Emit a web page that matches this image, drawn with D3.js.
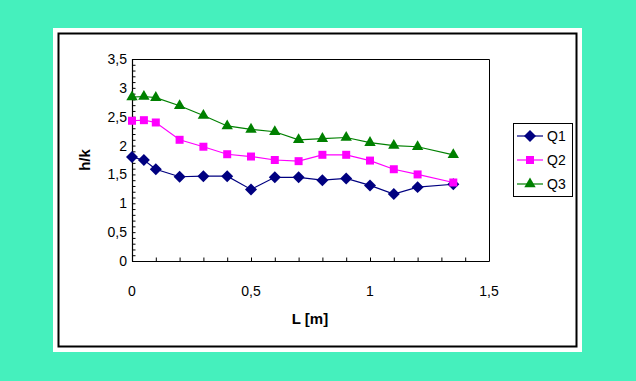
<!DOCTYPE html>
<html><head><meta charset="utf-8">
<script src="https://cdn.jsdelivr.net/npm/d3@7"></script>
<style>html,body{margin:0;padding:0;background:#45F0BD;}svg{display:block;}</style>
</head><body>
<svg id="c" width="636" height="381"></svg>
<script>
const xValues = [0, 0.05, 0.1, 0.2, 0.3, 0.4, 0.5, 0.6, 0.7, 0.8, 0.9, 1.0, 1.1, 1.2, 1.35];
const q1 = [1.80, 1.75, 1.59, 1.46, 1.47, 1.47, 1.24, 1.45, 1.45, 1.40, 1.43, 1.31, 1.16, 1.28, 1.33];
const q2 = [2.43, 2.44, 2.40, 2.10, 1.98, 1.85, 1.81, 1.75, 1.73, 1.84, 1.84, 1.74, 1.59, 1.50, 1.36];
const q3 = [2.84, 2.85, 2.83, 2.69, 2.52, 2.34, 2.28, 2.24, 2.10, 2.12, 2.14, 2.05, 2.00, 1.98, 1.84];
const seriesNames = ["Q1", "Q2", "Q3"];
const xTickValues = [0, 0.5, 1, 1.5];
const yTickValues = [0, 0.5, 1, 1.5, 2, 2.5, 3, 3.5];
const xTitle = "L [m]";
const yTitle = "h/k";

const colors = ["#000080", "#FF00FF", "#008000"];
const symbols = [d3.symbolSquare, d3.symbolSquare, d3.symbolTriangle];
const symRot = [45, 0, 0];
const symSizes = [72, 64, 56];
const fmt = v => String(v).replace(".", ",");
const font = "'Liberation Sans', Arial, sans-serif";

const svg = d3.select("#c");
svg.append("rect").attr("x", 53).attr("y", 28).attr("width", 529).attr("height", 324).attr("fill", "#fff");
svg.append("rect").attr("x", 58.5).attr("y", 33.5).attr("width", 518).attr("height", 313)
  .attr("fill", "none").attr("stroke", "#000").attr("stroke-width", 2);

const x = d3.scaleLinear().domain([0, 1.5]).range([132, 489]);
const y = d3.scaleLinear().domain([0, 3.5]).range([261, 59]);

// plot frame (top & right)
svg.append("path").attr("d", `M${x(0)},${y(3.5)+0.5}H${x(1.5)+0.5}V${y(0)}`)
  .attr("fill", "none").attr("stroke", "#000").attr("stroke-width", 1);

// minor ticks
const xMinor = d3.range(0, 16).map(i => i / 10);
const yMinor = d3.range(0, 36).map(i => i / 10);
const xa = svg.append("g").attr("transform", `translate(0,${y(0)+0.5})`)
  .call(d3.axisTop(x).tickValues(xMinor).tickSize(4).tickFormat(""));
const ya = svg.append("g").attr("transform", `translate(${x(0)+0.5},0)`)
  .call(d3.axisRight(y).tickValues(yMinor).tickSize(3).tickFormat(""));
[xa, ya].forEach(g => {
  g.select(".domain").attr("stroke", "#000").attr("stroke-width", 1.2);
  g.selectAll("line").attr("stroke", "#000");
});
xa.select(".domain").attr("d", `M${x(0)},0H${x(1.5)+0.5}`);
ya.select(".domain").attr("d", `M0,${y(0)+0.5}V${y(3.5)}`);

// tick labels
svg.append("g").selectAll("text").data(xTickValues).join("text")
  .attr("x", d => x(d)).attr("y", 296).attr("text-anchor", "middle")
  .attr("font-family", font).attr("font-size", 14).text(fmt);
svg.append("g").selectAll("text").data(yTickValues).join("text")
  .attr("x", 127).attr("y", d => y(d) + 5).attr("text-anchor", "end")
  .attr("font-family", font).attr("font-size", 14).text(fmt);

// titles
svg.append("text").attr("x", 310).attr("y", 324).attr("text-anchor", "middle")
  .attr("font-family", font).attr("font-size", 15).attr("font-weight", "bold").text(xTitle);
svg.append("text").attr("transform", "translate(90,160) rotate(-90)").attr("text-anchor", "middle")
  .attr("font-family", font).attr("font-size", 15).attr("font-weight", "bold").text(yTitle);

// series
const allSeries = [q1, q2, q3];
const line = d3.line().x(d => x(d[0])).y(d => y(d[1]));
allSeries.forEach((vals, i) => {
  const pts = xValues.map((xv, j) => [xv, vals[j]]);
  svg.append("path").datum(pts).attr("d", line).attr("fill", "none")
    .attr("stroke", colors[i]).attr("stroke-width", 1.2);
});
allSeries.forEach((vals, i) => {
  const pts = xValues.map((xv, j) => [xv, vals[j]]);
  svg.append("g").selectAll("path").data(pts).join("path")
    .attr("transform", d => `translate(${x(d[0])},${y(d[1])}) rotate(${symRot[i]})`)
    .attr("d", d3.symbol().type(symbols[i]).size(symSizes[i]))
    .attr("fill", colors[i]);
});

// legend
const lg = svg.append("g");
lg.append("rect").attr("x", 513.5).attr("y", 123.5).attr("width", 59).attr("height", 73)
  .attr("fill", "#fff").attr("stroke", "#000").attr("stroke-width", 1);
const legY = [136, 160, 184];
seriesNames.forEach((n, i) => {
  lg.append("line").attr("x1", 517).attr("x2", 543).attr("y1", legY[i]).attr("y2", legY[i])
    .attr("stroke", colors[i]).attr("stroke-width", 1.2);
  lg.append("path").attr("transform", `translate(530,${legY[i]}) rotate(${symRot[i]})`)
    .attr("d", d3.symbol().type(symbols[i]).size(symSizes[i])).attr("fill", colors[i]);
  lg.append("text").attr("x", 547).attr("y", legY[i] + 5).attr("font-family", font)
    .attr("font-size", 14).text(n);
});
</script>
</body></html>
